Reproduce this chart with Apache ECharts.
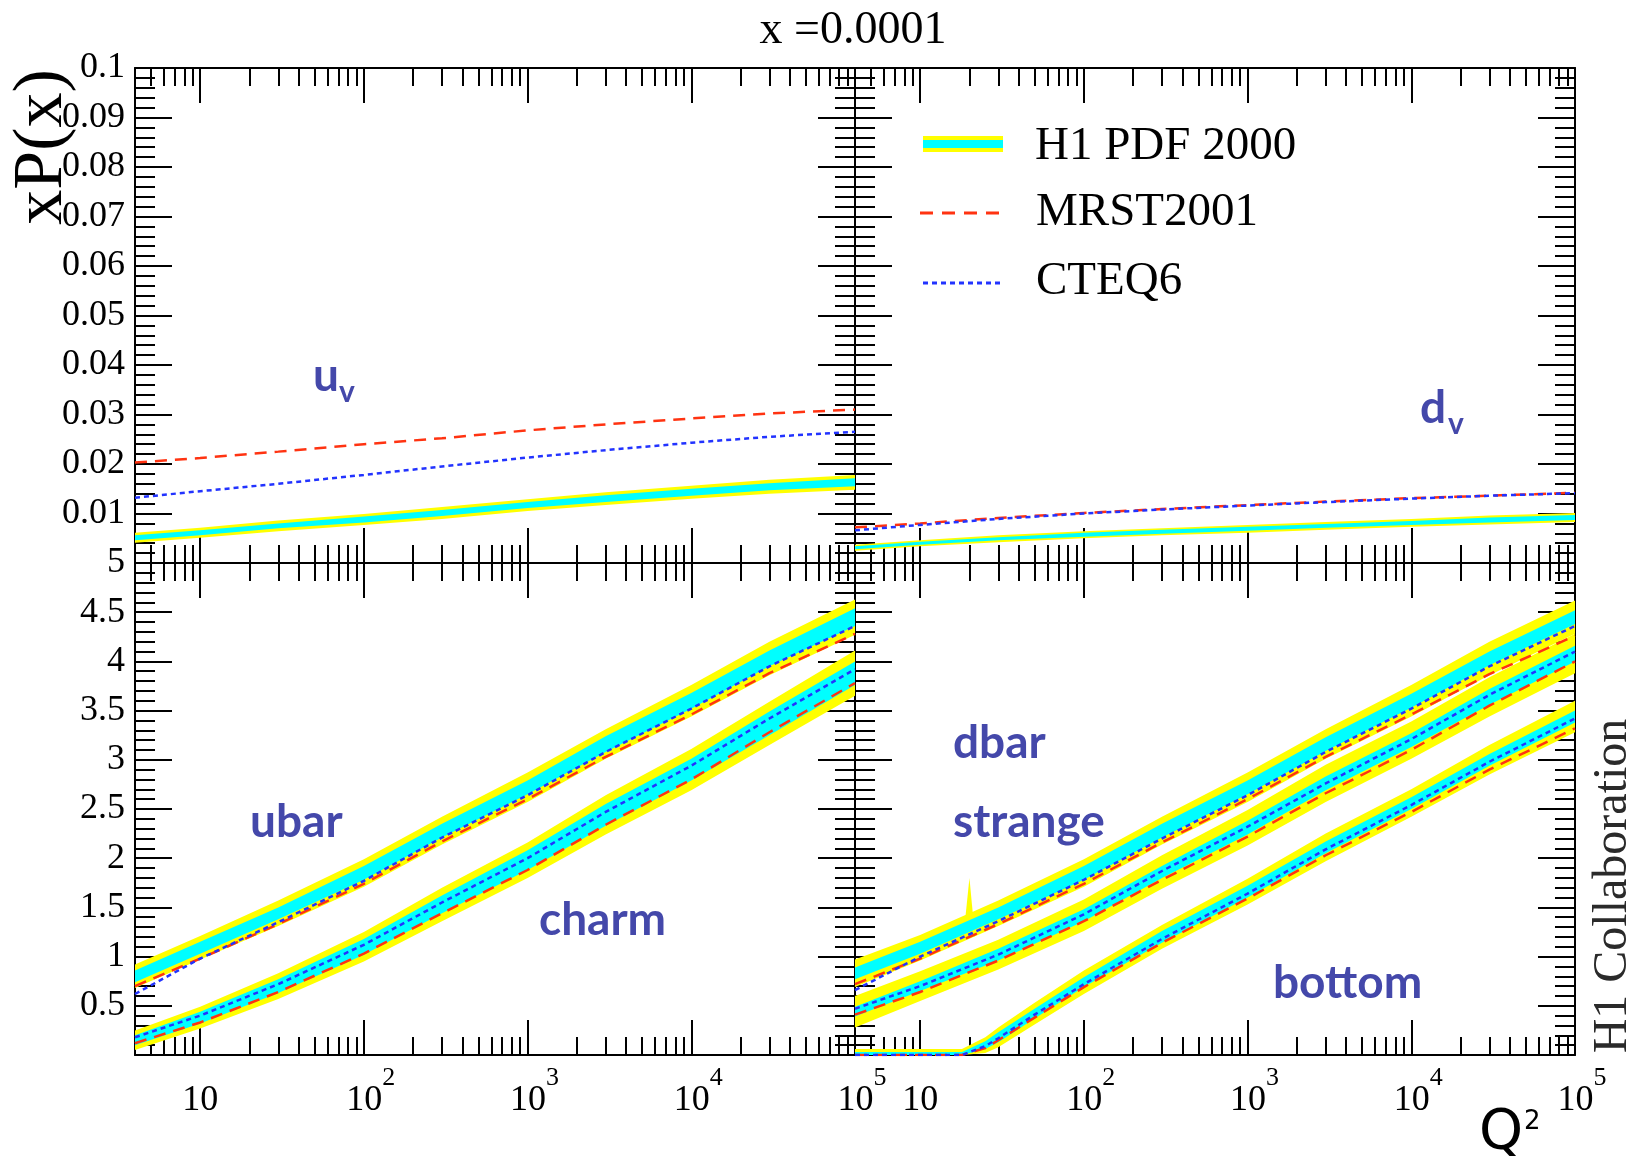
<!DOCTYPE html>
<html><head><meta charset="utf-8">
<script src="https://cdn.jsdelivr.net/npm/echarts@6/dist/echarts.min.js"></script>
<style>html,body{margin:0;padding:0;background:#fff}#c{width:1634px;height:1159px}</style>
</head><body><div id="c"></div>
<script>
// ---------------- data ----------------
const Q2 = [4, 10, 30, 100, 300, 1000, 3000, 10000, 30000, 100000];
const Q2b = [4, 18, 25, 30, 50, 100, 300, 1000, 3000, 10000, 30000, 100000];

// u valence (top-left)
const uv_h1     = [0.0051, 0.0061, 0.0075, 0.0088, 0.0101, 0.0117, 0.0130, 0.0143, 0.0154, 0.0163];
const uv_errOut = [0.0010, 0.0010, 0.0011, 0.0011, 0.0012, 0.0012, 0.0013, 0.0013, 0.0014, 0.0015];
const uv_errIn  = [0.0005, 0.0005, 0.0005, 0.0006, 0.0006, 0.0006, 0.0007, 0.0007, 0.0007, 0.0008];
const uv_mrst   = [0.0203, 0.0212, 0.0225, 0.0240, 0.0252, 0.0268, 0.0280, 0.0292, 0.0302, 0.0310];
const uv_cteq   = [0.0132, 0.0145, 0.0160, 0.0178, 0.0195, 0.0213, 0.0228, 0.0243, 0.0255, 0.0265];

// d valence (top-right)
const dv_h1     = [0.0031, 0.0040, 0.0049, 0.0057, 0.0063, 0.0069, 0.0075, 0.0081, 0.0087, 0.0092];
const dv_errOut = [0.0006, 0.0006, 0.0007, 0.0007, 0.0007, 0.0008, 0.0008, 0.0008, 0.0009, 0.0009];
const dv_errIn  = [0.0003, 0.0003, 0.0003, 0.0004, 0.0004, 0.0004, 0.0004, 0.0004, 0.0005, 0.0005];
const dv_mrst   = [0.0072, 0.0080, 0.0091, 0.0101, 0.0109, 0.0117, 0.0124, 0.0131, 0.0136, 0.0142];
const dv_cteq   = [0.0066, 0.0077, 0.0089, 0.0100, 0.0108, 0.0116, 0.0123, 0.0130, 0.0136, 0.0141];

// ubar and charm (bottom-left)
const ubar_h1     = [0.80, 1.09, 1.44, 1.85, 2.28, 2.72, 3.16, 3.60, 4.03, 4.45];
const ubar_errOut = [0.12, 0.12, 0.13, 0.14, 0.14, 0.15, 0.15, 0.16, 0.17, 0.18];
const ubar_errIn  = [0.06, 0.06, 0.06, 0.07, 0.07, 0.07, 0.08, 0.08, 0.08, 0.09];
const ubar_mrst   = [0.70, 0.98, 1.33, 1.74, 2.17, 2.60, 3.03, 3.46, 3.88, 4.28];
const ubar_cteq   = [0.62, 0.98, 1.35, 1.77, 2.21, 2.64, 3.08, 3.52, 3.95, 4.36];
const charm_h1     = [0.15, 0.38, 0.70, 1.10, 1.53, 1.98, 2.44, 2.90, 3.37, 3.88];
const charm_errOut = [0.10, 0.11, 0.13, 0.15, 0.17, 0.18, 0.20, 0.21, 0.22, 0.23];
const charm_errIn  = [0.05, 0.06, 0.07, 0.08, 0.09, 0.10, 0.11, 0.11, 0.12, 0.12];
const charm_mrst   = [0.12, 0.33, 0.64, 1.03, 1.44, 1.88, 2.34, 2.80, 3.28, 3.78];
const charm_cteq   = [0.18, 0.40, 0.72, 1.12, 1.55, 2.00, 2.47, 2.94, 3.42, 3.92];

// dbar, strange, bottom (bottom-right)
const dbar_h1     = [0.83, 1.09, 1.44, 1.85, 2.28, 2.72, 3.16, 3.60, 4.03, 4.45];
const dbar_errOut = [0.14, 0.13, 0.13, 0.14, 0.14, 0.15, 0.15, 0.16, 0.17, 0.17];
const dbar_errIn  = [0.06, 0.06, 0.06, 0.07, 0.07, 0.07, 0.07, 0.07, 0.07, 0.07];
const dbar_mrst   = [0.72, 0.98, 1.33, 1.74, 2.16, 2.60, 3.03, 3.46, 3.87, 4.26];
const dbar_cteq   = [0.66, 1.00, 1.36, 1.78, 2.20, 2.64, 3.08, 3.52, 3.95, 4.36];
const dbarSpikeQ2  = [18.5, 20, 21.5];
const dbarSpikeLo  = [1.20, 1.20, 1.20];
const dbarSpikeHi  = [1.25, 1.80, 1.25];
const str_h1     = [0.44, 0.70, 1.02, 1.42, 1.86, 2.31, 2.76, 3.20, 3.64, 4.08];
const str_errOut = [0.16, 0.15, 0.15, 0.16, 0.17, 0.18, 0.19, 0.19, 0.20, 0.20];
const str_errIn  = [0.05, 0.05, 0.06, 0.06, 0.06, 0.07, 0.07, 0.07, 0.08, 0.08];
const str_mrst   = [0.41, 0.64, 0.96, 1.36, 1.78, 2.22, 2.66, 3.10, 3.55, 4.00];
const str_cteq   = [0.47, 0.70, 1.02, 1.43, 1.87, 2.32, 2.76, 3.21, 3.66, 4.10];
const bot_h1     = [0.00, 0.00, 0.10, 0.18, 0.42, 0.74, 1.20, 1.66, 2.11, 2.56, 3.00, 3.44];
const bot_errOut = [0.06, 0.06, 0.08, 0.10, 0.11, 0.12, 0.12, 0.13, 0.14, 0.14, 0.15, 0.16];
const bot_errIn  = [0.03, 0.03, 0.04, 0.05, 0.05, 0.05, 0.06, 0.06, 0.06, 0.06, 0.06, 0.06];
const bot_mrst   = [0.00, 0.00, 0.07, 0.15, 0.38, 0.69, 1.14, 1.59, 2.03, 2.47, 2.90, 3.32];
const bot_cteq   = [0.00, 0.00, 0.09, 0.17, 0.41, 0.72, 1.18, 1.64, 2.09, 2.54, 2.98, 3.42];

// axis tick values
const xMajor = [10, 100, 1000, 10000, 100000];
const xMinor = [5,6,7,8,9, 20,30,40,50,60,70,80,90, 200,300,400,500,600,700,800,900,
                2000,3000,4000,5000,6000,7000,8000,9000, 20000,30000,40000,50000,60000,70000,80000,90000];
const legendNames = ['H1 PDF 2000', 'MRST2001', 'CTEQ6'];
const panelNames = ['u', 'd', 'ubar', 'charm', 'dbar', 'strange', 'bottom'];

// ---------------- styles ----------------
const SERIF = 'Liberation Serif';
const YEL = '#ffff00', CYA = '#00ffff', RED = '#ff3311', BLU = '#2233ff', LAB = '#4448aa';
const grids = [
  {left: 135, top: 68, width: 720, height: 495},
  {left: 855, top: 68, width: 720, height: 495},
  {left: 135, top: 563, width: 720, height: 492},
  {left: 855, top: 563, width: 720, height: 492}
];
const black = {color: '#000', width: 2};

function xAxes(g, labels) {
  const base = {type: 'log', logBase: 10, gridIndex: g, min: 4, max: 100000,
    splitLine: {show: false}, minorSplitLine: {show: false}};
  const lab = {
    show: labels, customValues: xMajor, margin: 24, color: '#000',
    formatter: v => {
      const e = Math.round(Math.log10(v));
      return e === 1 ? '{c|10}' : '{b|10}{s|' + e + '}';
    },
    rich: {
      c: {fontFamily: SERIF, fontSize: 36, lineHeight: 40, padding: [18, 0, 0, 0], verticalAlign: 'bottom', color: '#000'},
      b: {fontFamily: SERIF, fontSize: 36, lineHeight: 40, padding: [0, 0, 0, 14], verticalAlign: 'bottom', color: '#000'},
      s: {fontFamily: SERIF, fontSize: 26, lineHeight: 30, padding: [0, 0, 28, 0], verticalAlign: 'bottom', color: '#000'}
    }
  };
  const mk = (pos, major) => Object.assign({}, base, {
    position: pos,
    axisLine: {show: major, onZero: false, lineStyle: black},
    axisTick: {show: true, inside: true, length: major ? 35 : 18, customValues: major ? xMajor : xMinor, lineStyle: black},
    axisLabel: (major && pos === 'bottom') ? lab : {show: false}
  });
  return [mk('bottom', true), mk('bottom', false), mk('top', true), mk('top', false)];
}
function yAxes(g, top, labels) {
  const base = {type: 'value', gridIndex: g, min: 0, max: top ? 0.1 : 5, interval: top ? 0.01 : 0.5,
    splitLine: {show: false},
    axisLine: {show: true, onZero: false, lineStyle: black},
    axisTick: {show: true, inside: true, length: 37, lineStyle: black},
    minorTick: {show: true, splitNumber: 5, length: 20, lineStyle: black}};
  return [
    Object.assign({}, base, {position: 'left', axisLabel: {show: labels, margin: 10, color: '#000', fontFamily: SERIF, fontSize: 36,
      formatter: v => v === 0 ? '' : String(parseFloat(v.toFixed(3)))}}),
    Object.assign({}, base, {position: 'right', axisLabel: {show: false}})
  ];
}

const xAxis = [].concat(xAxes(0, false), xAxes(1, false), xAxes(2, true), xAxes(3, true));
const yAxis = [].concat(yAxes(0, true, true), yAxes(1, true, false), yAxes(2, false, true), yAxes(3, false, false));

const series = [];
// filled band between lo and hi, drawn as one polygon through the axes' own scales
function rangeBand(g, xs, lo, hi, color, z) {
  const rows = xs.map((q, i) => [q, lo[i], hi[i]]);
  series.push({
    type: 'custom', xAxisIndex: g * 4, yAxisIndex: g * 2, silent: true, animation: false, z: z, clip: true,
    encode: {x: 0, y: [1, 2]},
    data: rows,
    renderItem: function (params, api) {
      if (params.dataIndex !== 0) return null;
      const up = [], dn = [];
      for (let i = 0; i < rows.length; i++) {
        up.push(api.coord([api.value(0, i), api.value(2, i)]));
        dn.push(api.coord([api.value(0, i), api.value(1, i)]));
      }
      const cs = params.coordSys;
      const pts = echarts.graphic.clipPointsByRect(up.concat(dn.reverse()),
        {x: cs.x, y: cs.y, width: cs.width, height: cs.height});
      return {type: 'polygon', shape: {points: pts}, style: {fill: color, stroke: null}};
    }
  });
}
function band(g, xs, c, e, color, z) {
  rangeBand(g, xs, c.map((v, i) => v - e[i]), c.map((v, i) => v + e[i]), color, z);
}
function curve(g, xs, v, color, dash, z) {
  series.push({type: 'line', xAxisIndex: g * 4, yAxisIndex: g * 2, symbol: 'none', silent: true, animation: false,
    z: z, clip: true, lineStyle: {color: color, width: 2.5, type: dash},
    data: xs.map((q, i) => [q, v[i]])});
}
const DASH = [12, 8], DOT = [5, 4];
// yellow outer bands
band(0, Q2, uv_h1, uv_errOut, YEL, 2);
band(1, Q2, dv_h1, dv_errOut, YEL, 2);
band(2, Q2, ubar_h1, ubar_errOut, YEL, 2);
band(2, Q2, charm_h1, charm_errOut, YEL, 2);
band(3, Q2, dbar_h1, dbar_errOut, YEL, 2);
band(3, Q2, str_h1, str_errOut, YEL, 2);
band(3, Q2b, bot_h1, bot_errOut, YEL, 2);
rangeBand(3, dbarSpikeQ2, dbarSpikeLo, dbarSpikeHi, YEL, 2);
// cyan inner bands
band(0, Q2, uv_h1, uv_errIn, CYA, 3);
band(1, Q2, dv_h1, dv_errIn, CYA, 3);
band(2, Q2, ubar_h1, ubar_errIn, CYA, 3);
band(2, Q2, charm_h1, charm_errIn, CYA, 3);
band(3, Q2, dbar_h1, dbar_errIn, CYA, 3);
band(3, Q2, str_h1, str_errIn, CYA, 3);
band(3, Q2b, bot_h1, bot_errIn, CYA, 3);
// MRST2001 (red dashed) and CTEQ6 (blue dotted)
curve(0, Q2, uv_mrst, RED, DASH, 5);   curve(0, Q2, uv_cteq, BLU, DOT, 5);
curve(1, Q2, dv_mrst, RED, DASH, 5);   curve(1, Q2, dv_cteq, BLU, DOT, 5);
curve(2, Q2, ubar_mrst, RED, DASH, 5); curve(2, Q2, ubar_cteq, BLU, DOT, 5);
curve(2, Q2, charm_mrst, RED, DASH, 5); curve(2, Q2, charm_cteq, BLU, DOT, 5);
curve(3, Q2, dbar_mrst, RED, DASH, 5); curve(3, Q2, dbar_cteq, BLU, DOT, 5);
curve(3, Q2, str_mrst, RED, DASH, 5);  curve(3, Q2, str_cteq, BLU, DOT, 5);
curve(3, Q2b, bot_mrst, RED, DASH, 5); curve(3, Q2b, bot_cteq, BLU, DOT, 5);

function txt(x, y, text, font, color, extra) {
  return Object.assign({type: 'text', x: x, y: y, silent: true, z: 100,
    style: Object.assign({text: text, font: font, fill: color, align: 'left', verticalAlign: 'middle'}, extra || {})});
}
const LF = 'bold 46px Lato';
const graphic = [
  txt(853, 31, 'x =0.0001', '46px "' + SERIF + '"', '#000', {align: 'center'}),
  Object.assign(txt(43, 147, 'xP(x)', '70px "' + SERIF + '"', '#000', {align: 'center'}), {rotation: Math.PI / 2}),
  Object.assign(txt(1613, 886, 'H1 Collaboration', '48px "' + SERIF + '"', '#2a2a2a', {align: 'center'}), {rotation: Math.PI / 2}),
  txt(1479, 1133, 'Q', '56px "DejaVu Sans"', '#000'),
  txt(1524, 1122, '2', '26px "DejaVu Sans"', '#000'),
  // panel labels
  txt(313, 376, panelNames[0], LF, LAB), txt(339, 392, 'v', 'bold 30px Lato', LAB),
  txt(1420, 408, panelNames[1], LF, LAB), txt(1448, 424, 'v', 'bold 30px Lato', LAB),
  txt(250, 822, panelNames[2], LF, LAB),
  txt(539, 920, panelNames[3], LF, LAB),
  txt(953, 743, panelNames[4], LF, LAB),
  txt(953, 822, panelNames[5], LF, LAB),
  txt(1273, 983, panelNames[6], LF, LAB),
  // legend
  {type: 'rect', silent: true, z: 100, shape: {x: 923, y: 136, width: 80, height: 16}, style: {fill: YEL}},
  {type: 'rect', silent: true, z: 101, shape: {x: 923, y: 140, width: 80, height: 8}, style: {fill: CYA}},
  {type: 'line', silent: true, z: 100, shape: {x1: 920, y1: 213, x2: 1003, y2: 213}, style: {stroke: RED, lineWidth: 3, lineDash: [13, 9]}},
  {type: 'line', silent: true, z: 100, shape: {x1: 923, y1: 283, x2: 1003, y2: 283}, style: {stroke: BLU, lineWidth: 3, lineDash: [5, 4]}},
  txt(1035, 147, legendNames[0], '47px "' + SERIF + '"', '#000'),
  txt(1036, 213, legendNames[1], '47px "' + SERIF + '"', '#000'),
  txt(1036, 282, legendNames[2], '47px "' + SERIF + '"', '#000')
];

const chart = echarts.init(document.getElementById('c'), null, {renderer: 'canvas'});
chart.setOption({
  animation: false,
  backgroundColor: '#fff',
  grid: grids,
  xAxis: xAxis,
  yAxis: yAxis,
  series: series,
  graphic: graphic
});
</script>
</body></html>
